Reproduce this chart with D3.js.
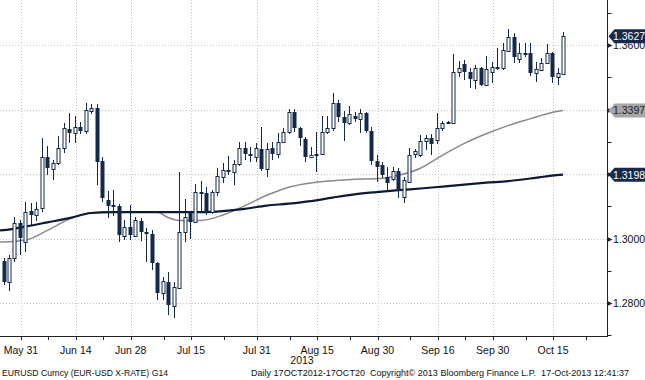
<!DOCTYPE html>
<html><head><meta charset="utf-8">
<script src="https://cdn.jsdelivr.net/npm/d3@7"></script>
<style>body{margin:0;background:#fff;} svg{display:block;font-family:"Liberation Sans",Arial,sans-serif;} text{white-space:pre;}</style>
</head><body>
<svg id="c" width="645" height="380"></svg>
<script>
// ---- data (EURUSD daily candles, 28 May 2013 .. 17 Oct 2013) ----
const firstDay = "2013-05-28";
const open = [1.2930,1.2865,1.2940,1.3048,1.2989,1.3085,1.3073,1.3095,1.3253,1.3216,
1.3234,1.3281,1.3340,1.3327,1.3346,1.3333,1.3395,1.3405,1.3240,1.3120,
1.3104,1.3101,1.3008,1.3036,1.3008,1.3054,1.3020,1.3014,1.2924,1.2831,
1.2865,1.2791,1.2847,1.3020,1.3079,1.3051,1.3144,1.3141,1.3082,1.3144,
1.3191,1.3213,1.3206,1.3231,1.3281,1.3262,1.3253,1.3278,1.3216,1.3281,
1.3262,1.3299,1.3330,1.3392,1.3343,1.3309,1.3253,1.3259,1.3262,1.3330,
1.3343,1.3420,1.3377,1.3358,1.3380,1.3371,1.3389,1.3333,1.3240,1.3228,
1.3191,1.3185,1.3209,1.3129,1.3175,1.3262,1.3259,1.3302,1.3312,1.3306,
1.3343,1.3358,1.3358,1.3516,1.3541,1.3516,1.3492,1.3529,1.3476,1.3516,
1.3532,1.3529,1.3581,1.3625,1.3557,1.3575,1.3575,1.3513,1.3522,1.3544,
1.3575,1.3501,1.3510];
const high = [1.2940,1.2949,1.3067,1.3058,1.3113,1.3110,1.3113,1.3312,1.3287,1.3244,
1.3318,1.3358,1.3389,1.3380,1.3361,1.3420,1.3417,1.3417,1.3253,1.3147,
1.3150,1.3107,1.3058,1.3104,1.3067,1.3064,1.3033,1.3027,1.2927,1.2881,
1.2896,1.2865,1.3206,1.3123,1.3085,1.3169,1.3178,1.3160,1.3150,1.3219,
1.3234,1.3256,1.3244,1.3299,1.3299,1.3284,1.3296,1.3346,1.3296,1.3299,
1.3327,1.3343,1.3402,1.3402,1.3346,1.3315,1.3284,1.3330,1.3380,1.3380,
1.3451,1.3430,1.3395,1.3411,1.3392,1.3402,1.3392,1.3346,1.3259,1.3237,
1.3222,1.3222,1.3219,1.3191,1.3281,1.3278,1.3321,1.3321,1.3324,1.3389,
1.3364,1.3364,1.3572,1.3550,1.3554,1.3529,1.3538,1.3532,1.3566,1.3547,
1.3591,1.3606,1.3650,1.3637,1.3606,1.3606,1.3606,1.3547,1.3560,1.3603,
1.3578,1.3529,1.3640];
const low = [1.2856,1.2837,1.2927,1.2949,1.2958,1.3042,1.3054,1.3082,1.3197,1.3182,
1.3228,1.3265,1.3296,1.3296,1.3324,1.3324,1.3386,1.3166,1.3113,1.3064,
1.3070,1.2989,1.2996,1.2996,1.3005,1.2992,1.2927,1.2903,1.2810,1.2810,
1.2763,1.2754,1.2844,1.2989,1.2999,1.3048,1.3082,1.3073,1.3076,1.3132,
1.3172,1.3197,1.3166,1.3225,1.3244,1.3237,1.3237,1.3209,1.3191,1.3244,
1.3250,1.3296,1.3324,1.3330,1.3287,1.3237,1.3250,1.3206,1.3259,1.3324,
1.3333,1.3361,1.3302,1.3352,1.3361,1.3327,1.3327,1.3228,1.3175,1.3188,
1.3144,1.3178,1.3126,1.3110,1.3172,1.3250,1.3253,1.3275,1.3259,1.3293,
1.3333,1.3355,1.3355,1.3501,1.3492,1.3467,1.3464,1.3473,1.3473,1.3482,
1.3523,1.3523,1.3578,1.3544,1.3544,1.3563,1.3504,1.3485,1.3519,1.3541,
1.3482,1.3476,1.3507];
const close = [1.2865,1.2940,1.3048,1.3002,1.3082,1.3073,1.3092,1.3253,1.3219,1.3234,
1.3281,1.3343,1.3327,1.3346,1.3333,1.3399,1.3405,1.3237,1.3126,1.3101,
1.3098,1.3011,1.3036,1.3011,1.3058,1.3020,1.3014,1.2924,1.2831,1.2868,
1.2794,1.2850,1.3020,1.3067,1.3051,1.3144,1.3138,1.3082,1.3144,1.3194,
1.3213,1.3206,1.3231,1.3281,1.3262,1.3256,1.3281,1.3216,1.3278,1.3262,
1.3299,1.3330,1.3392,1.3343,1.3312,1.3253,1.3259,1.3262,1.3330,1.3343,
1.3420,1.3377,1.3358,1.3386,1.3371,1.3389,1.3333,1.3240,1.3222,1.3197,
1.3172,1.3209,1.3151,1.3182,1.3259,1.3271,1.3302,1.3312,1.3293,1.3343,
1.3358,1.3361,1.3516,1.3529,1.3516,1.3495,1.3529,1.3476,1.3526,1.3532,
1.3526,1.3585,1.3625,1.3563,1.3575,1.3572,1.3513,1.3526,1.3544,1.3575,
1.3501,1.3513,1.3627];

// moving averages (read at sample dates)
const maDates = ["2013-05-27","2013-05-28","2013-06-03","2013-06-07","2013-06-13","2013-06-19","2013-06-25","2013-07-01","2013-07-05","2013-07-09","2013-07-11","2013-07-17","2013-07-23","2013-07-29","2013-08-02","2013-08-08","2013-08-14","2013-08-20","2013-08-26","2013-08-30","2013-09-05","2013-09-11","2013-09-17","2013-09-23","2013-09-27","2013-10-03","2013-10-09","2013-10-15","2013-10-17"];
const ma50 = [1.2989,1.2989,1.2995,1.3025,1.3060,1.3080,1.3083,1.3083,1.3082,1.3065,1.3056,1.3056,1.3073,1.3102,1.3134,1.3159,1.3172,1.3179,1.3184,1.3185,1.3196,1.3218,1.3258,1.3295,1.3325,1.3350,1.3371,1.3391,1.3397];
const ma200 = [1.3025,1.3026,1.3037,1.3050,1.3063,1.3079,1.3082,1.3082,1.3082,1.3082,1.3082,1.3082,1.3085,1.3092,1.3102,1.3108,1.3116,1.3127,1.3137,1.3144,1.3150,1.3155,1.3161,1.3167,1.3173,1.3178,1.3186,1.3195,1.3198];

// axis ticks
const xTickDates  = ["2013-05-31","2013-06-14","2013-06-28","2013-07-15","2013-07-31","2013-08-15","2013-08-30","2013-09-16","2013-09-30","2013-10-15"];
const xTickLabels = ["May 31","Jun 14","Jun 28","Jul 15","Jul 31","Aug 15","Aug 30","Sep 16","Sep 30","Oct 15"];
const xMinorDates = ["2013-06-07","2013-06-21","2013-07-08","2013-07-23","2013-08-08","2013-08-23","2013-09-09","2013-09-23","2013-10-08","2013-10-23"];
const yearLabel = "2013";
const yMajor = [1.28,1.30,1.32,1.34,1.36];
const yMinor = [1.27,1.29,1.31,1.33,1.35,1.37];
const lastValues = [1.3627, 1.3397, 1.3198];
const footerLeft = "EURUSD Curncy (EUR-USD X-RATE) G14";
const footerRight = "Daily 17OCT2012-17OCT20  Copyright\u00A9 2013 Bloomberg Finance L.P.  17-Oct-2013 12:41:37";

// ---- trading-day index ----
const parse = d3.utcParse("%Y-%m-%d");
const fmt = d3.utcFormat("%Y-%m-%d");
const allDays = d3.utcDay.range(parse("2013-05-20"), parse("2013-11-01")).filter(d => d.getUTCDay() % 6 !== 0).map(fmt);
const base = allDays.indexOf(firstDay);
const idx = s => allDays.indexOf(s) - base;

const W = 645, H = 380, plotR = 607.5, plotB = 336;
const navy = "#13284a", grid = "#c4c4c4";
const x = d3.scaleLinear().domain([0, close.length - 1]).range([3.5, 563]);
const y = d3.scaleLinear().domain([1.28, 1.36]).range([303, 45]);

const svg = d3.select("#c");
svg.append("defs").append("clipPath").attr("id","pc").append("rect").attr("x",0).attr("y",0).attr("width",plotR).attr("height",plotB);

// grid
const g = svg.append("g");
g.selectAll("line.hg").data(yMajor).join("line")
  .attr("x1",0).attr("x2",plotR).attr("y1",d=>Math.round(y(d))+0.5).attr("y2",d=>Math.round(y(d))+0.5)
  .attr("stroke",grid).attr("stroke-dasharray","1,2");
g.selectAll("line.vg").data(xTickDates).join("line")
  .attr("x1",d=>Math.round(x(idx(d))+1)+0.5).attr("x2",d=>Math.round(x(idx(d))+1)+0.5).attr("y1",0).attr("y2",plotB)
  .attr("stroke",grid).attr("stroke-dasharray","1,2");

// moving averages
const maData = maDates.map((d,i)=>({i:idx(d), a:ma50[i], b:ma200[i]}));
const pg = svg.append("g").attr("clip-path","url(#pc)");
pg.append("path").datum(maData).attr("fill","none").attr("stroke","#8a8a8a").attr("stroke-width",1.5)
  .attr("d", d3.line().x(d=>x(d.i)).y(d=>y(d.a)).curve(d3.curveMonotoneX));
pg.append("path").datum(maData).attr("fill","none").attr("stroke","#0c1a33").attr("stroke-width",2.2)
  .attr("d", d3.line().x(d=>x(d.i)).y(d=>y(d.b)).curve(d3.curveMonotoneX));

// candles
const candles = close.map((c,i)=>({i, o:open[i], h:high[i], l:low[i], c}));
const cg = pg.append("g");
const cx = d => Math.round(x(d.i));
cg.selectAll("line.w").data(candles).join("line")
  .attr("x1",d=>cx(d)+0.5).attr("x2",d=>cx(d)+0.5)
  .attr("y1",d=>Math.round(y(d.h))).attr("y2",d=>Math.round(y(d.l)))
  .attr("stroke",navy).attr("stroke-width",1);
cg.selectAll("rect.b").data(candles).join("rect")
  .attr("x",d=> d.c>=d.o ? cx(d)-1 : cx(d)-1.5)
  .attr("width",d=> d.c>=d.o ? 3 : 4)
  .attr("y",d=>{const t=Math.round(y(Math.max(d.o,d.c))); return d.c>=d.o ? t+0.5 : t;})
  .attr("height",d=>{const t=Math.round(y(Math.max(d.o,d.c))), b=Math.round(y(Math.min(d.o,d.c))); return Math.max(d.c>=d.o?1:2, b-t);})
  .attr("fill",d=> d.c>=d.o ? "#fff" : navy)
  .attr("stroke",d=> d.c>=d.o ? navy : "none").attr("stroke-width",1);

// bottom axis
const ax = svg.append("g");
ax.append("line").attr("x1",0).attr("x2",plotR).attr("y1",plotB+0.5).attr("y2",plotB+0.5).attr("stroke","#222");
ax.selectAll("line.t").data(xTickDates.concat(xMinorDates)).join("line")
  .attr("x1",d=>Math.round(x(idx(d))+1)+0.5).attr("x2",d=>Math.round(x(idx(d))+1)+0.5)
  .attr("y1",plotB).attr("y2",plotB+4).attr("stroke","#222");
ax.selectAll("text.xl").data(xTickDates).join("text")
  .attr("x",d=>x(idx(d))+1).attr("y",354).attr("text-anchor","middle")
  .attr("font-size",10.5).attr("fill","#111").text((d,i)=>xTickLabels[i]);
ax.append("text").attr("x",302).attr("y",364).attr("text-anchor","middle").attr("font-size",10.5).attr("fill","#111").text(yearLabel);

// right axis
const ay = svg.append("g");
ay.append("line").attr("x1",plotR).attr("x2",plotR).attr("y1",0).attr("y2",plotB+1).attr("stroke","#222");
ay.selectAll("line.mn").data(yMinor).join("line")
  .attr("x1",plotR).attr("x2",plotR+4).attr("y1",d=>Math.round(y(d))+0.5).attr("y2",d=>Math.round(y(d))+0.5).attr("stroke","#222");
ay.selectAll("path.mj").data(yMajor).join("path")
  .attr("d",d=>{const yy=Math.round(y(d))+0.5; return `M${plotR},${yy-2.5}L${plotR+5},${yy}L${plotR},${yy+2.5}Z`;})
  .attr("fill","#222");
ay.selectAll("text.yl").data(yMajor).join("text")
  .attr("x",613).attr("y",d=>y(d)+4).attr("font-size",10.5).attr("fill","#111").text(d=>d.toFixed(4));

// last-value boxes
const boxFill = ["#152a4d","#a6a6a6","#152a4d"], boxText = ["#fff","#222","#fff"];
const bx = svg.append("g").selectAll("g").data(lastValues).join("g");
bx.append("path").attr("d",d=>{const yy=y(d); return `M${plotR+1},${yy}L${plotR+7},${yy-7}L${W},${yy-7}L${W},${yy+7}L${plotR+7},${yy+7}Z`;})
  .attr("fill",(d,i)=>boxFill[i]);
bx.append("text").attr("x",613).attr("y",d=>y(d)+4).attr("font-size",10.5).attr("fill",(d,i)=>boxText[i]).text(d=>d.toFixed(4));

// footer
svg.append("text").attr("x",2).attr("y",376).attr("font-size",9.5).attr("fill","#111")
  .attr("textLength",166).attr("lengthAdjust","spacingAndGlyphs").text(footerLeft);
svg.append("text").attr("x",251).attr("y",376).attr("font-size",9).attr("fill","#111")
  .attr("textLength",378).attr("lengthAdjust","spacingAndGlyphs").text(footerRight);
</script>
</body></html>
